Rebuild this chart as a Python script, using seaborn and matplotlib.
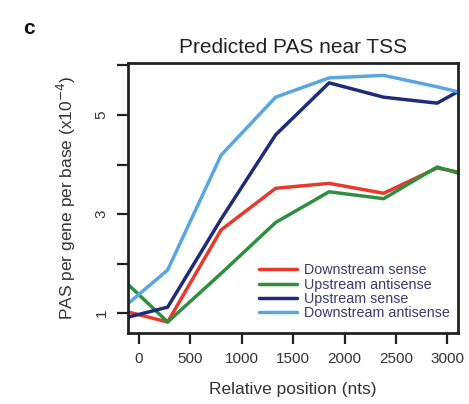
import numpy as np
import pandas as pd
import seaborn as sns
import matplotlib
matplotlib.use("Agg")
import matplotlib.pyplot as plt

# Relative position of each bin (nts) and PAS density per series (x10^-4)
positions = [-100, 280, 800, 1330, 1850, 2380, 2900, 3100]
downstream_sense = [1.02, 0.82, 2.68, 3.52, 3.62, 3.42, 3.93, 3.85]
upstream_antisense = [1.57, 0.82, 1.80, 2.83, 3.45, 3.31, 3.95, 3.83]
upstream_sense = [0.92, 1.12, 2.90, 4.60, 5.65, 5.36, 5.24, 5.47]
downstream_antisense = [1.20, 1.87, 4.19, 5.36, 5.75, 5.80, 5.57, 5.47]

series_names = ["Downstream sense", "Upstream antisense", "Upstream sense", "Downstream antisense"]
series_values = [downstream_sense, upstream_antisense, upstream_sense, downstream_antisense]
series_colors = ["#e53a2c", "#2f8f3e", "#202b7a", "#5aa6e2"]

x_ticks = [0, 500, 1000, 1500, 2000, 2500, 3000]
y_ticks = [1, 2, 3, 4, 5, 6]
y_tick_labels = ["1", "", "3", "", "5", ""]

frames = []
for name, vals in zip(series_names, series_values):
    frames.append(pd.DataFrame({"position": positions, "pas": vals, "series": name}))
df = pd.concat(frames, ignore_index=True)

sns.set_theme(style="white")
plt.rcParams["font.family"] = ["Liberation Sans", "DejaVu Sans"]

fig = plt.figure(figsize=(4.69, 4.04), dpi=100)
ax = fig.add_axes([0.273, 0.176, 0.704, 0.668])

sns.lineplot(data=df, x="position", y="pas", hue="series", hue_order=series_names,
             palette=series_colors, linewidth=2.5, ax=ax, sort=False)

ax.set_xlim(-105, 3105)
ax.set_ylim(0.6, 6.05)
ax.set_xticks(x_ticks)
ax.set_xticklabels([str(t) for t in x_ticks], fontsize=11, color="#333333")
ax.set_yticks(y_ticks)
ax.set_yticklabels(y_tick_labels, fontsize=11, color="#333333", rotation=90, va="center")
ax.tick_params(axis="both", direction="out", length=8, width=1.6, color="#222222",
               bottom=True, left=True, pad=6)

for sp in ax.spines.values():
    sp.set_linewidth(2.0)
    sp.set_color("#222222")
    sp.set_visible(True)

ax.set_xlabel("Relative position (nts)", fontsize=12.5, color="#333333", labelpad=11)
ax.set_ylabel("PAS per gene per base (x10$^{-4}$)", fontsize=12.5, color="#333333", labelpad=12)
ax.set_title("Predicted PAS near TSS", fontsize=15, color="#222222", pad=7)

leg = ax.legend(loc="lower right", bbox_to_anchor=(1.0, 0.015), frameon=False,
                fontsize=10.3, handlelength=2.6, handletextpad=0.5,
                labelspacing=0.02, borderaxespad=0.2)
for t in leg.get_texts():
    t.set_color("#3a3a70")

fig.text(0.05, 0.915, "c", fontsize=15, fontweight="bold", color="#111111")

fig.savefig("out.png", dpi=100)
